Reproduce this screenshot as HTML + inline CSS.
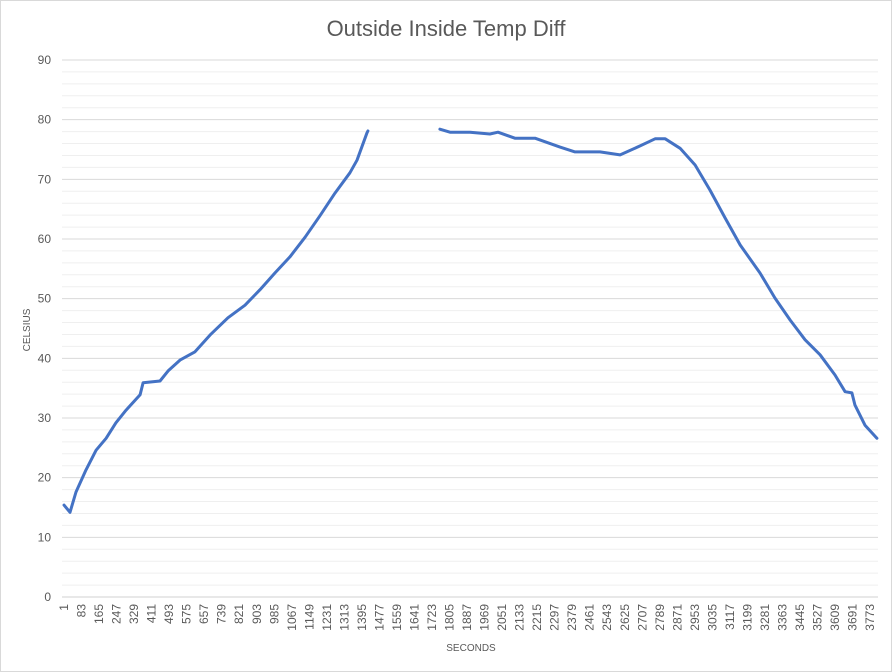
<!DOCTYPE html>
<html><head><meta charset="utf-8"><style>
body{margin:0;background:#fff}
svg{display:block;font-family:"Liberation Sans",sans-serif}
</style></head><body>
<svg id="chart" width="892" height="672">
<rect x="0.5" y="0.5" width="891" height="671" fill="#fff" stroke="#d9d9d9"/>
<text x="446" y="36" text-anchor="middle" font-size="22" fill="#595959">Outside Inside Temp Diff</text>
<text transform="translate(30,330) rotate(-90)" text-anchor="middle" font-size="10" fill="#595959">CELSIUS</text>
<text x="471" y="651" text-anchor="middle" font-size="10" fill="#595959">SECONDS</text>
<g id="grid"></g><g id="yticks"></g><g id="xticks"></g><g id="series"></g>
</svg>
<script>
const seconds=[1,29,57,104,151,198,244,291,357,371,450,488,544,614,684,768,848,918,988,1058,1129,1199,1269,1339,1372,1419,1423,1424,1760,1807,1901,1994,2032,2111,2205,2322,2392,2509,2603,2697,2767,2814,2884,2954,3024,3095,3165,3258,3328,3399,3469,3539,3609,3656,3688,3702,3749,3805];
const celsius=[15.4,14.2,17.6,21.3,24.6,26.6,29.2,31.3,33.9,35.9,36.2,37.9,39.7,41.1,43.9,46.8,48.9,51.5,54.3,57.0,60.3,63.9,67.7,71.1,73.2,77.8,78.1,null,78.4,77.9,77.9,77.6,77.9,76.9,76.9,75.4,74.6,74.6,74.1,75.6,76.8,76.8,75.2,72.4,68.2,63.5,59.0,54.3,50.1,46.4,43.1,40.6,37.2,34.4,34.2,32.2,28.8,26.6];
const yTicks=[0,10,20,30,40,50,60,70,80,90];
const xStart=1,xStep=82,xMaxIndex=3810;
const NS="http://www.w3.org/2000/svg";
const X0=64,X1=878,Y0=597,Y1=60;
function xs(s){return X0+(s-1)*(X1-X0)/(xMaxIndex-1);}
function ys(v){return Y0-(v/90)*(Y0-Y1);}
function mk(t,a,p){const e=document.createElementNS(NS,t);for(const k in a)e.setAttribute(k,a[k]);p.appendChild(e);return e;}
const grid=document.getElementById('grid');
for(let v=0;v<=90;v+=2){
  const major=v%10===0;
  const l=mk('line',{x1:X0-2,x2:X1,y1:ys(v),y2:ys(v),stroke:major?(v===0?'#d0d0d0':'#d9d9d9'):'#efefef','stroke-width':1},grid);
  
  
}
const yt=document.getElementById('yticks');
yTicks.forEach(v=>{
  const t=mk('text',{x:51,y:ys(v)+4,'text-anchor':'end','font-size':12,fill:'#595959'},yt);
  t.textContent=v;
  
  
});
const xt=document.getElementById('xticks');
for(let s=xStart;s<=xMaxIndex;s+=xStep){
  const x=xs(s);
  const t=mk('text',{transform:`translate(${x+4},604) rotate(-90)`,'text-anchor':'end','font-size':12,fill:'#595959'},xt);
  t.textContent=s;
  
  
}
const sg=document.getElementById('series');
let d='',pen=false;
for(let i=0;i<seconds.length;i++){
  if(celsius[i]===null){pen=false;continue;}
  d+=(pen?'L':'M')+xs(seconds[i]).toFixed(1)+','+ys(celsius[i]).toFixed(1);
  pen=true;
}
const p=mk('path',{d:d,fill:'none',stroke:'#4472C4','stroke-width':3,'stroke-linejoin':'round','stroke-linecap':'round'},sg);


</script>
</body></html>
